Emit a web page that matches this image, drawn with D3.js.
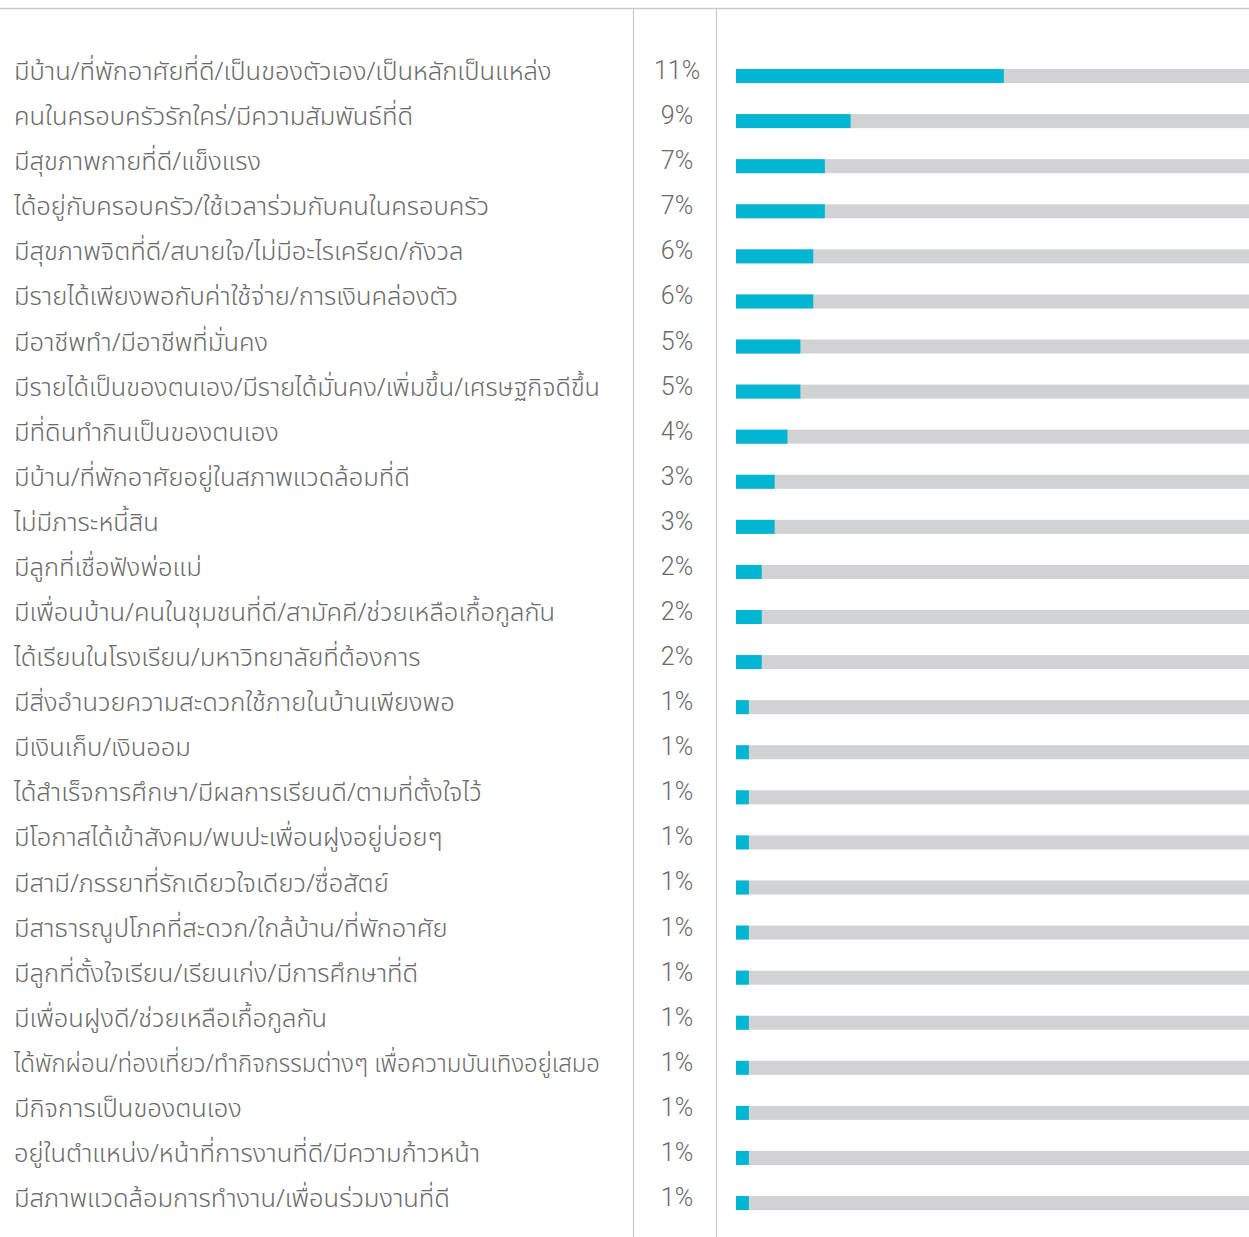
<!DOCTYPE html>
<html>
<head>
<meta charset="utf-8">
<script src="https://cdnjs.cloudflare.com/ajax/libs/d3/7.8.5/d3.min.js"></script>
<style>
  body { margin: 0; background: #fff; }
  .lbl { font-family: "Noto Sans Thai", "Noto Sans", "DejaVu Sans", sans-serif; font-weight: 300; }
  .pct { font-family: Roboto, "Liberation Sans", sans-serif; font-weight: 300; }
</style>
</head>
<body>
<div id="chart"></div>
<script>
// labels, shown percentages and bar lengths (bars)
var labels = [
  "มีบ้าน/ที่พักอาศัยที่ดี/เป็นของตัวเอง/เป็นหลักเป็นแหล่ง",
  "คนในครอบครัวรักใคร่/มีความสัมพันธ์ที่ดี",
  "มีสุขภาพกายที่ดี/แข็งแรง",
  "ได้อยู่กับครอบครัว/ใช้เวลาร่วมกับคนในครอบครัว",
  "มีสุขภาพจิตที่ดี/สบายใจ/ไม่มีอะไรเครียด/กังวล",
  "มีรายได้เพียงพอกับค่าใช้จ่าย/การเงินคล่องตัว",
  "มีอาชีพทำ/มีอาชีพที่มั่นคง",
  "มีรายได้เป็นของตนเอง/มีรายได้มั่นคง/เพิ่มขึ้น/เศรษฐกิจดีขึ้น",
  "มีที่ดินทำกินเป็นของตนเอง",
  "มีบ้าน/ที่พักอาศัยอยู่ในสภาพแวดล้อมที่ดี",
  "ไม่มีภาระหนี้สิน",
  "มีลูกที่เชื่อฟังพ่อแม่",
  "มีเพื่อนบ้าน/คนในชุมชนที่ดี/สามัคคี/ช่วยเหลือเกื้อกูลกัน",
  "ได้เรียนในโรงเรียน/มหาวิทยาลัยที่ต้องการ",
  "มีสิ่งอำนวยความสะดวกใช้ภายในบ้านเพียงพอ",
  "มีเงินเก็บ/เงินออม",
  "ได้สำเร็จการศึกษา/มีผลการเรียนดี/ตามที่ตั้งใจไว้",
  "มีโอกาสได้เข้าสังคม/พบปะเพื่อนฝูงอยู่บ่อยๆ",
  "มีสามี/ภรรยาที่รักเดียวใจเดียว/ซื่อสัตย์",
  "มีสาธารณูปโภคที่สะดวก/ใกล้บ้าน/ที่พักอาศัย",
  "มีลูกที่ตั้งใจเรียน/เรียนเก่ง/มีการศึกษาที่ดี",
  "มีเพื่อนฝูงดี/ช่วยเหลือเกื้อกูลกัน",
  "ได้พักผ่อน/ท่องเที่ยว/ทำกิจกรรมต่างๆ เพื่อความบันเทิงอยู่เสมอ",
  "มีกิจการเป็นของตนเอง",
  "อยู่ในตำแหน่ง/หน้าที่การงานที่ดี/มีความก้าวหน้า",
  "มีสภาพแวดล้อมการทำงาน/เพื่อนร่วมงานที่ดี"
];
var pctLabels = ["11%","9%","7%","7%","6%","6%","5%","5%","4%","3%","3%","2%","2%","2%",
  "1%","1%","1%","1%","1%","1%","1%","1%","1%","1%","1%","1%"];
var barValues = [20.8, 8.9, 6.9, 6.9, 6.0, 6.0, 5.0, 5.0, 4.0, 3.0, 3.0, 2.0, 2.0, 2.0,
  1.0, 1.0, 1.0, 1.0, 1.0, 1.0, 1.0, 1.0, 1.0, 1.0, 1.0, 1.0];
var domainMax = 40;

var width = 1249, height = 1237;
var blue = "#00b6d2", track = "#d1d2d4", textCol = "#6a6a6a", lineCol = "#c9c9c9";
var labelMaxW = 600;

var svg = d3.select("#chart").append("svg")
  .attr("width", width)
  .attr("height", height);

var data = labels.map(function(d, i) {
  return {label: d, pct: pctLabels[i], value: barValues[i]};
});

// rows
var y = d3.scaleBand()
  .domain(d3.range(labels.length))
  .range([53.5, 1225.6])
  .paddingInner(0);

var x = d3.scaleLinear()
  .domain([0, domainMax])
  .range([736, 1251]);

var barH = 14;
var barOffset = (y.bandwidth() - barH) / 2;

// grid lines
svg.append("line")
  .attr("x1", 0).attr("x2", width)
  .attr("y1", 8.5).attr("y2", 8.5)
  .style("stroke", lineCol).style("stroke-width", 1.5);
[633.5, 716.5].forEach(function(xx) {
  svg.append("line")
    .attr("x1", xx).attr("x2", xx)
    .attr("y1", 9).attr("y2", height)
    .style("stroke", lineCol).style("stroke-width", 1.2);
});

var rows = svg.selectAll(".row")
  .data(data)
  .enter()
  .append("g")
  .attr("class", "row")
  .attr("transform", function(d, i) { return "translate(0," + y(i) + ")"; });

rows.append("text")
  .attr("class", "lbl")
  .attr("x", 14)
  .attr("y", barOffset + 11)
  .style("font-size", "25.5px")
  .style("fill", textCol)
  .text(function(d) { return d.label; })
  .each(function() {
    // squeeze labels that would run into the percent column
    var w = this.getComputedTextLength();
    if (w > labelMaxW - 14) {
      d3.select(this)
        .attr("textLength", labelMaxW - 14)
        .attr("lengthAdjust", "spacingAndGlyphs");
    }
  });

rows.append("text")
  .attr("class", "pct")
  .attr("x", 677)
  .attr("y", barOffset + 10)
  .attr("text-anchor", "middle")
  .style("font-size", "25px")
  .style("fill", textCol)
  .text(function(d) { return d.pct; });

rows.append("rect")
  .attr("x", x(0))
  .attr("y", barOffset)
  .attr("width", x(domainMax) - x(0))
  .attr("height", barH)
  .style("fill", track);

rows.append("rect")
  .attr("x", x(0))
  .attr("y", barOffset)
  .attr("width", function(d) { return x(d.value) - x(0); })
  .attr("height", barH)
  .style("fill", blue);
</script>
</body>
</html>
